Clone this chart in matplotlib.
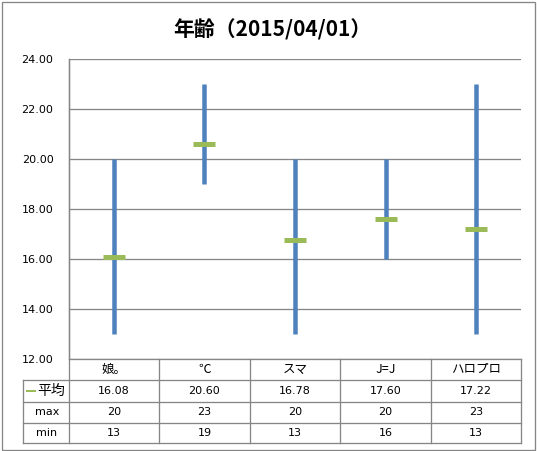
import matplotlib
matplotlib.use("Agg")
import matplotlib.pyplot as plt
from matplotlib.lines import Line2D
from matplotlib.patches import Rectangle

plt.rcParams['font.family'] = ['DejaVu Sans', 'Noto Sans CJK JP']
CJK = ['Noto Sans CJK JP', 'DejaVu Sans']

title = "年齢（2015/04/01）"
categories = ["娘。", "℃", "スマ", "J=J", "ハロプロ"]
avg = [16.08, 20.60, 16.78, 17.60, 17.22]
vmax = [20, 23, 20, 20, 23]
vmin = [13, 19, 13, 16, 13]
row_labels = ["平均", "max", "min"]
yticks = [12, 14, 16, 18, 20, 22, 24]

W, H = 537, 451
DPI = 100
fig = plt.figure(figsize=(W / DPI, H / DPI), dpi=DPI)

def fx(px):
    return px / W

def fy(py):
    return 1 - py / H

grid_c = "#868686"
blue = "#4F81BD"
green = "#9BBB59"
pt = 72 / DPI

# outer border
fig.add_artist(Rectangle((fx(1.5), fy(449.5)), fx(535) - fx(1.5), fy(1.5) - fy(449.5),
                         transform=fig.transFigure, fill=False, ec=grid_c, lw=1.3 * pt))

L, R, T, B = 68.7, 521.3, 59, 359
ax = fig.add_axes([fx(L), fy(B), fx(R) - fx(L), fy(T) - fy(B)])
ax.set_xlim(-0.5, len(categories) - 0.5)
ax.set_ylim(12, 24)
ax.set_yticks(yticks)
ax.set_yticklabels([f"{v:.2f}" for v in yticks], fontsize=8, color="#000000")
ax.set_xticks([])
for s in ["top", "right", "bottom"]:
    ax.spines[s].set_visible(False)
ax.spines["left"].set_color(grid_c)
ax.spines["left"].set_linewidth(1.3 * pt)
ax.tick_params(axis="y", length=0, pad=11)
ax.yaxis.grid(True, color=grid_c, lw=1.3 * pt)
ax.set_axisbelow(True)

xs = list(range(len(categories)))
ax.vlines(xs, vmin, vmax, colors=blue, lw=4.5 * pt, zorder=3)
ax.plot(xs, avg, ls="none", marker="_", ms=22 * pt, mew=5 * pt, color=green, zorder=4)

fig.text(fx(272), fy(30), title, ha="center", va="center", fontsize=15,
         fontweight="bold", family=CJK)

# data table
col_x = [68.7 + i * (521.3 - 68.7) / len(categories) for i in range(len(categories) + 1)]
row_y = [359, 379.5, 401.5, 422.5, 443]
tab_left = 23

def hline(x0, x1, y):
    fig.add_artist(Line2D([fx(x0), fx(x1)], [fy(y), fy(y)], transform=fig.transFigure,
                          color=grid_c, lw=1.3 * pt))

def vline(x, y0, y1):
    fig.add_artist(Line2D([fx(x), fx(x)], [fy(y0), fy(y1)], transform=fig.transFigure,
                          color=grid_c, lw=1.3 * pt))

hline(col_x[0], col_x[-1], row_y[0])
for y in row_y[1:]:
    hline(tab_left, col_x[-1], y)
for x in col_x:
    vline(x, row_y[0] if x != col_x[0] else T, row_y[-1])
vline(tab_left, row_y[1], row_y[-1])

fs = 8
for i, c in enumerate(categories):
    cx = (col_x[i] + col_x[i + 1]) / 2
    fig.text(fx(cx), fy((row_y[0] + row_y[1]) / 2), c, ha="center", va="center",
             fontsize=9, family=CJK)
    fig.text(fx(cx), fy((row_y[1] + row_y[2]) / 2), f"{avg[i]:.2f}", ha="center", va="center", fontsize=fs)
    fig.text(fx(cx), fy((row_y[2] + row_y[3]) / 2), f"{vmax[i]}", ha="center", va="center", fontsize=fs)
    fig.text(fx(cx), fy((row_y[3] + row_y[4]) / 2), f"{vmin[i]}", ha="center", va="center", fontsize=fs)

# legend key in the 平均 row
ky = (row_y[1] + row_y[2]) / 2
fig.add_artist(Line2D([fx(27), fx(35)], [fy(ky), fy(ky)], transform=fig.transFigure,
                      color=green, lw=2 * pt))
fig.text(fx(37), fy(ky), row_labels[0], ha="left", va="center", fontsize=10, family=CJK)
fig.text(fx(47), fy((row_y[2] + row_y[3]) / 2), row_labels[1], ha="center", va="center", fontsize=fs)
fig.text(fx(47), fy((row_y[3] + row_y[4]) / 2), row_labels[2], ha="center", va="center", fontsize=fs)

fig.savefig("out.png", dpi=DPI)
